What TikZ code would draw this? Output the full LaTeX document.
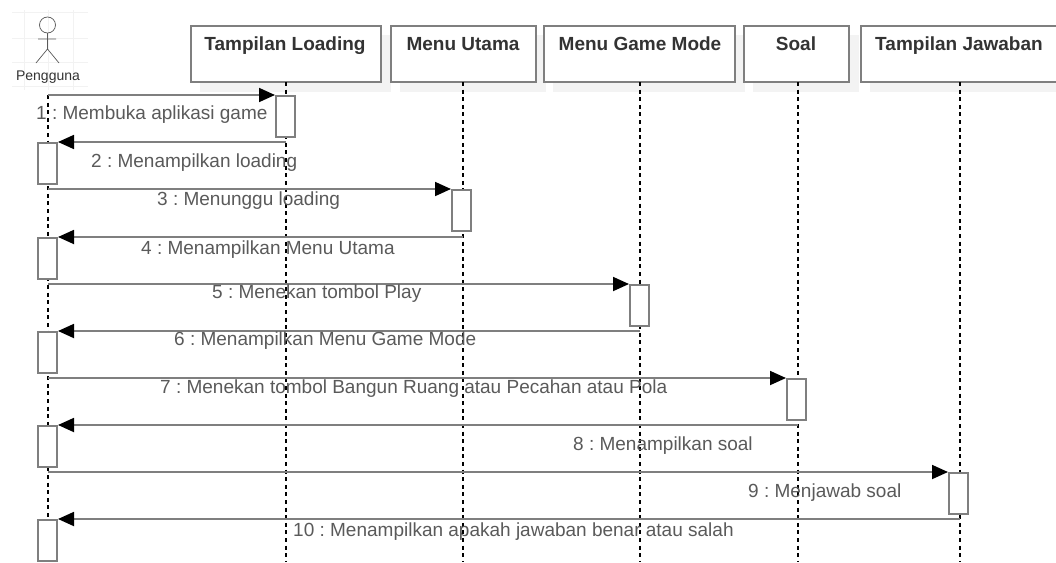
\documentclass[tikz,border=0pt]{standalone}
\usepackage{fontspec}
\setmainfont{Liberation Sans}
\usetikzlibrary{arrows.meta}
\definecolor{edge}{HTML}{7F7F7F}
\definecolor{shade}{HTML}{F3F3F3}
\definecolor{grid}{HTML}{F2F2F2}
\definecolor{headtext}{HTML}{333333}
\definecolor{msgtext}{HTML}{5A5A5A}
\frenchspacing
\tikzset{
  x=1pt,y=-1pt,
  headbox/.style={draw=edge,line width=2pt,fill=white,minimum height=56pt,inner sep=0pt,anchor=north west},
  headlabel/.style={text=headtext,font=\fontsize{19}{22}\selectfont\bfseries,inner sep=0pt,text height=14pt,text depth=4pt},
  shadowbox/.style={fill=shade,draw=none},
  lifeline/.style={black,line width=1.2pt,dash pattern=on 4pt off 3.6pt},
  actbox/.style={draw=edge,line width=2pt,fill=white,minimum width=19pt,minimum height=41pt,inner sep=0pt,anchor=north west},
  msg/.style={draw=edge,line width=1.8pt},
  tip/.style={-{Triangle[length=16pt,width=14pt,color=black]}},
  msglabel/.style={text=msgtext,font=\fontsize{19}{22}\selectfont,inner sep=0pt,anchor=west,text height=14pt,text depth=4pt},
  gridline/.style={grid,line width=.7pt},
  stick/.style={draw=black!65,line width=.7pt}
}
\begin{document}
\begin{tikzpicture}
\useasboundingbox (0,0) rectangle (1056,562);
\fill[white] (0,0) rectangle (1056,562);
% faint grid behind actor
\foreach \yy in {12,38,62,86}{\draw[gridline] (12,\yy) -- (88,\yy);}
\foreach \xx in {24,48,73}{\draw[gridline] (\xx,10) -- (\xx,90);}
% shadows of the heads
\fill[shadowbox] (200,35) rectangle (391,92);
\fill[shadowbox] (400,35) rectangle (546,92);
\fill[shadowbox] (553,35) rectangle (745,92);
\fill[shadowbox] (753,35) rectangle (859,92);
\fill[shadowbox] (870,35) rectangle (1056,92);
% heads
\node[headbox,minimum width=190pt] (h1) at (190,25) {};
\node[headbox,minimum width=145pt] (h2) at (390,25) {};
\node[headbox,minimum width=191pt] (h3) at (543,25) {};
\node[headbox,minimum width=105pt] (h4) at (743,25) {};
\node[headbox,minimum width=200pt] (h5) at (860,25) {};
\node[headlabel] (t1) at (285,45) {Tampilan Loading};
\node[headlabel] (t2) at (463,45) {Menu Utama};
\node[headlabel] (t3) at (640,45) {Menu Game Mode};
\node[headlabel] (t4) at (796,45) {Soal};
\node[headlabel] (t5) at (959,45) {Tampilan Jawaban};
% actor
\coordinate (a0) at (48,95);
\coordinate (a1) at (48,562);
\coordinate (e1) at (286,562);
\coordinate (e2) at (463,562);
\coordinate (e3) at (640,562);
\coordinate (e4) at (798,562);
\coordinate (e5) at (960,562);
\coordinate (s1) at (286,82);
\coordinate (s2) at (463,82);
\coordinate (s3) at (640,82);
\coordinate (s4) at (798,82);
\coordinate (s5) at (960,82);
\draw[stick] (47.5,25) circle (8);
\draw[stick] (47.5,33) -- (47.5,49) (38,39) -- (56,39) (36,63) -- (47.5,49) -- (59,63);
\node[text=headtext,font=\fontsize{14}{16}\selectfont,inner sep=0pt,text height=10pt,text depth=3pt] (actor) at (48,76.5) {Pengguna};
% lifelines
\draw[lifeline] (a0) -- (a1);
\draw[lifeline] (s1) -- (e1);
\draw[lifeline] (s2) -- (e2);
\draw[lifeline] (s3) -- (e3);
\draw[lifeline] (s4) -- (e4);
\draw[lifeline] (s5) -- (e5);
% activations
\node[actbox] (b1) at (275,95) {};
\node[actbox] (u2) at (37,142) {};
\node[actbox] (b3) at (451,189) {};
\node[actbox] (u4) at (37,237) {};
\node[actbox] (b5) at (629,284) {};
\node[actbox] (u6) at (37,331) {};
\node[actbox] (b7) at (786,378) {};
\node[actbox] (u8) at (37,425) {};
\node[actbox] (b9) at (948,472) {};
\node[actbox] (u10) at (37,519) {};
% message ends
\coordinate (m1) at (48,95);
\coordinate (m2) at (286,142);
\coordinate (m3) at (48,189);
\coordinate (m4) at (463,237);
\coordinate (m5) at (48,284);
\coordinate (m6) at (640,331);
\coordinate (m7) at (48,378);
\coordinate (m8) at (798,425);
\coordinate (m9) at (48,472);
\coordinate (m10) at (960,519);
% messages
\draw[msg,tip] (m1) -- (b1.north west);
\draw[msg,tip] (m2) -- (u2.north east);
\draw[msg,tip] (m3) -- (b3.north west);
\draw[msg,tip] (m4) -- (u4.north east);
\draw[msg,tip] (m5) -- (b5.north west);
\draw[msg,tip] (m6) -- (u6.north east);
\draw[msg,tip] (m7) -- (b7.north west);
\draw[msg,tip] (m8) -- (u8.north east);
\draw[msg,tip] (m9) -- (b9.north west);
\draw[msg,tip] (m10) -- (u10.north east);
% labels
\node[msglabel] (l1) at (36,114) {1 : Membuka aplikasi game};
\node[msglabel] (l2) at (91,162) {2 : Menampilkan loading};
\node[msglabel] (l3) at (157,200) {3 : Menunggu loading};
\node[msglabel] (l4) at (141,249) {4 : Menampilkan Menu Utama};
\node[msglabel] (l5) at (212,293) {5 : Menekan tombol Play};
\node[msglabel] (l6) at (174,340) {6 : Menampilkan Menu Game Mode};
\node[msglabel] (l7) at (160,388) {7 : Menekan tombol Bangun Ruang atau Pecahan atau Pola};
\node[msglabel] (l8) at (573,445) {8 : Menampilkan soal};
\node[msglabel] (l9) at (748,492) {9 : Menjawab soal};
\node[msglabel] (l10) at (293,531) {10 : Menampilkan apakah jawaban benar atau salah};
\end{tikzpicture}
\end{document}
